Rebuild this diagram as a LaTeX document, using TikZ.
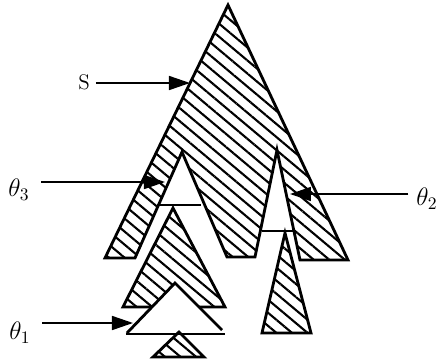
\documentclass[tikz,border=0pt]{standalone}
\usetikzlibrary{arrows.meta,patterns.meta}
\begin{document}
\begin{tikzpicture}[x=0.2mm,y=-0.2mm,font=\large,
  hatch/.style={draw,line width=1.6pt,pattern={Lines[angle=-40,distance=2mm,line width=1.2pt]}},
  blank/.style={fill=white,line width=1.6pt},
  cut/.style={line width=1.3pt},
  tlabel/.style={font=\Large},
  arr/.style={line width=0.9pt,-{Triangle[length=4.2mm,width=2.8mm]}}]
\useasboundingbox (0,0) rectangle (443,362);
% outer shape s with the two cut-outs
\draw[hatch] (105,258)--(228,5)--(348,260)--(300,260)--(277,150)--(255,257)--(227,257)--(182,152)--(135,258)--cycle;
\draw[cut] (157,205)--(201,205);
\draw[cut] (262,231)--(293,231);
% left branch
\draw[hatch] (173,208)--(225,307)--(123,307)--cycle;
\fill[white] (175,283)--(222,330)--(127,333)--cycle;
\draw[blank] (127,333)--(175,283)--(222,330);
\draw[cut] (126,334)--(225,334);
\draw[hatch] (179,332)--(204,357)--(153,357)--cycle;
% right branch
\draw[hatch] (285,233)--(311,333)--(262,333)--cycle;
% labels
\coordinate (ps) at (190,83);
\coordinate (p3) at (165,182);
\coordinate (p1) at (133,323);
\coordinate (p2) at (290,194);
\node (s) at (84,82) {S};
\node[tlabel] (t3) at (19,190) {$\theta_3$};
\node[tlabel] (t1) at (20,333) {$\theta_1$};
\node[tlabel] (t2) at (427,199) {$\theta_2$};
\draw[arr] (s.east|-ps) -- (ps);
\draw[arr] ([xshift=3pt]t3.east|-p3) -- (p3);
\draw[arr] ([xshift=3pt]t1.east|-p1) -- (p1);
\draw[arr] ([xshift=-1pt]t2.west|-p2) -- (p2);
\end{tikzpicture}
\end{document}
